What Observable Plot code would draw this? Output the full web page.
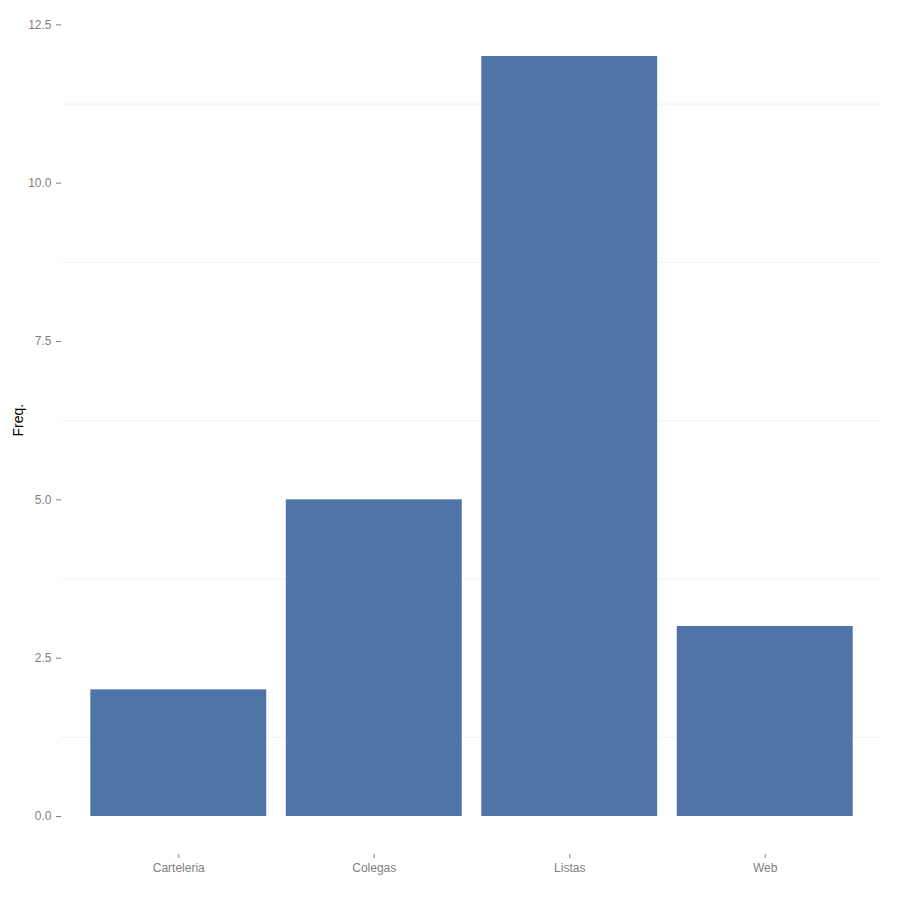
<!DOCTYPE html>
<html>
<head>
<meta charset="utf-8">
<script src="https://cdn.jsdelivr.net/npm/d3@7"></script>
<script src="https://cdn.jsdelivr.net/npm/@observablehq/plot@0.6"></script>
<style>
  html, body { margin: 0; padding: 0; background: #fff; }
  #chart svg { display: block; }
</style>
</head>
<body>
<div id="chart"></div>
<script>
const categories = ["Carteleria", "Colegas", "Listas", "Web"];
const freqs = [2, 5, 12, 3];
const yTicks = [0, 2.5, 5, 7.5, 10, 12.5];
const yMinorGrid = [1.25, 3.75, 6.25, 8.75, 11.25];

const data = categories.map((c, i) => ({category: c, freq: freqs[i]}));

const chart = Plot.plot({
  width: 900,
  height: 900,
  marginLeft: 61,
  marginRight: 18,
  marginTop: 18,
  marginBottom: 46,
  style: {fontFamily: "'Liberation Sans', Helvetica, Arial, sans-serif", fontSize: "12px", background: "#fff", color: "#7f7f7f"},
  x: {domain: categories, paddingInner: 0.1, paddingOuter: 0.15, round: false, label: null},
  y: {domain: [-0.6, 12.6], label: null},
  marks: [
    Plot.ruleY(yMinorGrid, {stroke: "#f2f2f2", strokeWidth: 1}),
    Plot.barY(data, {x: "category", y: "freq", fill: "#4e74a8"}),
    Plot.axisY(yTicks, {tickSize: 5, tickPadding: 5, tickFormat: d3.format(".1f"), stroke: "#7f7f7f", fill: "#7f7f7f", label: null, fontSize: 12}),
    Plot.axisX({tickSize: 4, tickPadding: 5, stroke: "#7f7f7f", fill: "#7f7f7f", label: null, fontSize: 12}),
    Plot.text(["Freq."], {frameAnchor: "left", dx: -43, rotate: -90, fontSize: 14, fill: "#000"})
  ]
});
document.getElementById("chart").appendChild(chart);
</script>
</body>
</html>
